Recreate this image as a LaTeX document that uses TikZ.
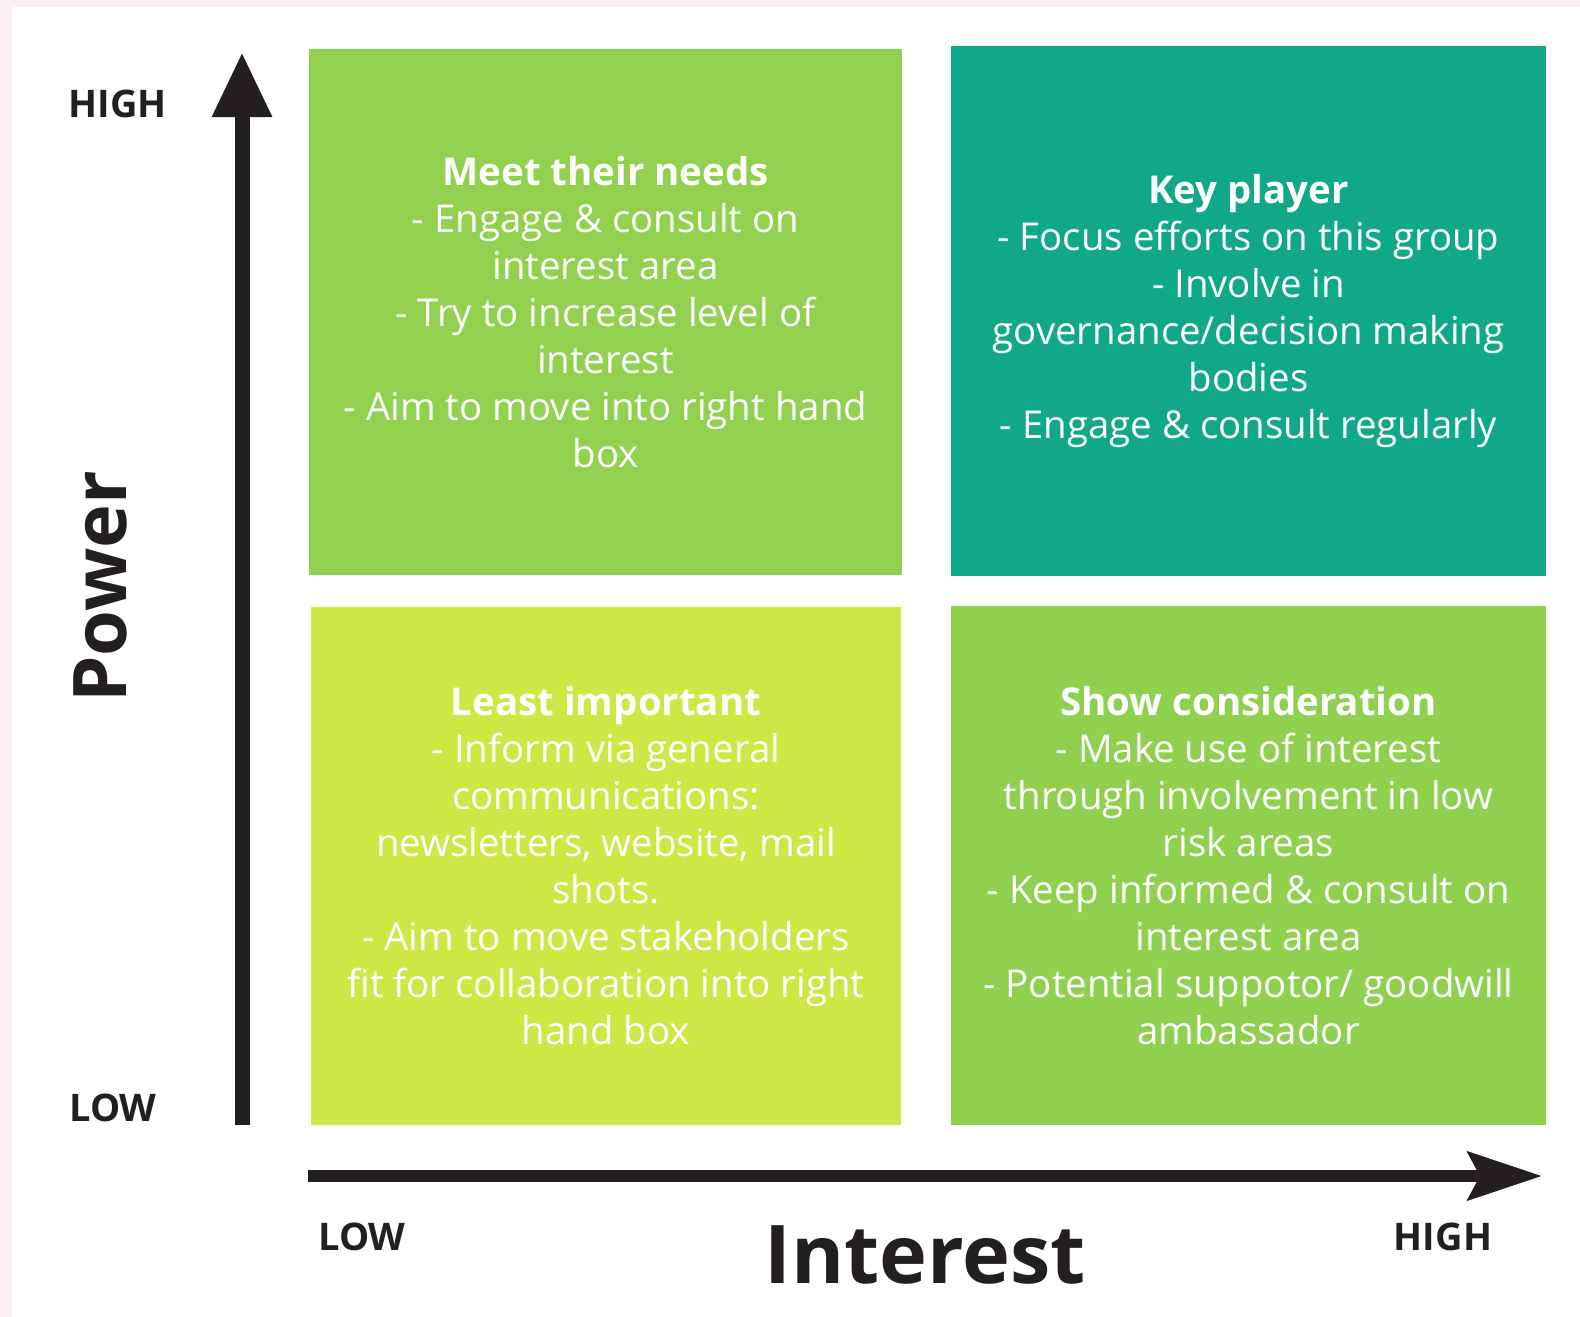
\documentclass[tikz,border=0pt]{standalone}
\usepackage{fontspec}
\setmainfont{Open Sans}
\usepackage{tikz}
\usetikzlibrary{arrows.meta}
\usetikzlibrary{positioning}
\definecolor{needsGreen}{HTML}{92D050}
\definecolor{playerTeal}{HTML}{10A888}
\definecolor{leastLime}{HTML}{CDE745}
\definecolor{showGreen}{HTML}{8FD14F}
\definecolor{edgePink}{HTML}{FCEEF1}
\definecolor{axisInk}{HTML}{231F20}

\begin{document}
\begin{tikzpicture}[x=0.5pt,y=-0.5pt]
\tikzstyle{quad}=[rectangle,inner sep=0pt,text=white,align=center,
font=\fontsize{19.2}{23.5}\selectfont]
\tikzstyle{tick}=[text=axisInk,font=\fontsize{19}{22}\selectfont\bfseries]
\tikzstyle{axisname}=[text=axisInk,font=\fontsize{40.5}{44}\selectfont\bfseries]
\useasboundingbox (0,0) rectangle (1580,1317);
\fill[edgePink] (0,0) rectangle (1580,1317);
\fill[white] (12,7) rectangle (1580,1317);
\node[quad,fill=needsGreen,minimum width=296.5pt,minimum height=263pt] (needs) at (605.5,312)
{\textbf{Meet their needs}\\- Engage \& consult on\\interest area\\- Try to increase level of\\interest\\- Aim to move into right hand\\box};
\node[quad,fill=playerTeal,minimum width=297.5pt,minimum height=265pt] (player) at (1248.5,311)
{\textbf{Key player}\\- Focus efforts on this group\\- Involve in\\governance/decision making\\bodies\\- Engage \& consult regularly};
\node[quad,fill=leastLime,minimum width=295pt,minimum height=259pt] (least) at (606,866)
{\textbf{Least important}\\- Inform via general\\communications:\\newsletters, website, mail\\shots.\\- Aim to move stakeholders\\fit for collaboration into right\\hand box};
\node[quad,fill=showGreen,minimum width=297.5pt,minimum height=259.5pt] (show) at (1248.5,865.5)
{\textbf{Show consideration}\\- Make use of interest\\through involvement in low\\risk areas\\- Keep informed \& consult on\\interest area\\- Potential suppotor/ goodwill\\ambassador};
\coordinate (powerfoot) at (242,1125);
\coordinate (powertip) at (242,52);
\coordinate (interestfoot) at (308,1176);
\coordinate (interesttip) at (1542,1176);
\draw[axisInk,line width=7.5pt,-{Triangle[width=28pt,length=32.5pt]}] (powerfoot) -- (powertip);
\draw[axisInk,line width=6pt,-{Stealth[width=24pt,length=37pt,inset=6pt]}] (interestfoot) -- (interesttip);
\node[tick] (powerhigh) at (117.5,104) {HIGH};
\node[tick] (powerlow) at (113,1108) {LOW};
\node[tick] (interestlow) at (362,1237) {LOW};
\node[tick] (interesthigh) at (1443,1237) {HIGH};
\node[axisname] (interestname) at (925,1255) {Interest};
\node[axisname,rotate=90,font=\fontsize{37}{40}\selectfont\bfseries] (powername) at (100,587) {Power};
\end{tikzpicture}
\end{document}
